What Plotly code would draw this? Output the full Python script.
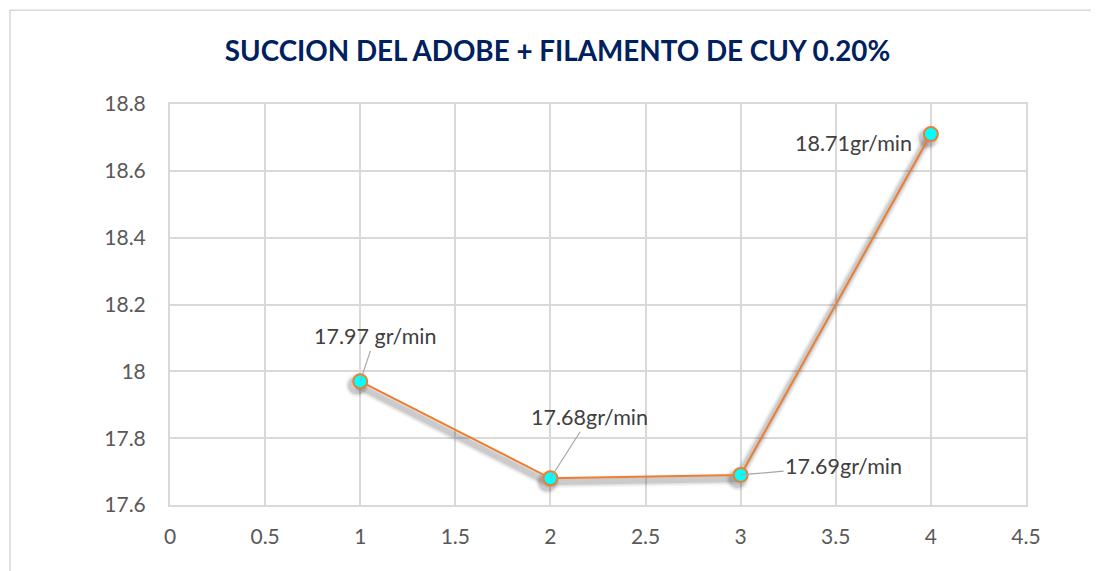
import plotly.graph_objects as go

x_vals = [1, 2, 3, 4]
y_vals = [17.97, 17.68, 17.69, 18.71]
labels = ["17.97 gr/min", "17.68gr/min", "17.69gr/min", "18.71gr/min"]
label_offsets = [(15, -45), (39, -61), (103, -9), (-77, 9)]
show_leader = [True, True, True, False]

x_ticks = [0, 0.5, 1, 1.5, 2, 2.5, 3, 3.5, 4, 4.5]
x_tick_text = ["0", "0.5", "1", "1.5", "2", "2.5", "3", "3.5", "4", "4.5"]
y_ticks = [17.6, 17.8, 18.0, 18.2, 18.4, 18.6, 18.8]
y_tick_text = ["17.6", "17.8", "18", "18.2", "18.4", "18.6", "18.8"]

ORANGE = "#ED7D31"
GRID = "#D9D9D9"
TICK = "#595959"
FONT = "Lato, Carlito, Calibri, sans-serif"

fig = go.Figure()

# soft shadow
for w, op in [(12, 0.04), (9, 0.07), (6, 0.10)]:
    fig.add_trace(go.Scatter(
        x=[v - 0.016 for v in x_vals], y=[v - 0.012 for v in y_vals],
        mode="lines+markers",
        line=dict(color=f"rgba(0,0,0,{op})", width=w),
        marker=dict(size=12 + w, color=f"rgba(0,0,0,{op})"),
        hoverinfo="skip", showlegend=False))

fig.add_trace(go.Scatter(
    x=x_vals, y=y_vals, mode="lines+markers",
    line=dict(color=ORANGE, width=2),
    marker=dict(size=14, color="#00FFFF", line=dict(color=ORANGE, width=2)),
    showlegend=False))

for xv, yv, lab, (ax, ay), sl in zip(x_vals, y_vals, labels, label_offsets, show_leader):
    fig.add_annotation(
        x=xv, y=yv, text=lab, showarrow=True, ax=ax, ay=ay,
        arrowhead=0, arrowwidth=1.2,
        arrowcolor="#A6A6A6" if sl else "rgba(0,0,0,0)",
        font=dict(family=FONT, size=21.5, color="#404040"))

fig.update_layout(
    width=1099, height=571,
    paper_bgcolor="white", plot_bgcolor="white",
    margin=dict(l=162, r=81, t=96, b=74),
    title=dict(text="<b>SUCCION DEL ADOBE + FILAMENTO DE CUY 0.20%</b>",
               x=0.5, xanchor="center", y=0.925, yanchor="middle",
               font=dict(family=FONT, size=27.8, color="#002060")),
    xaxis=dict(range=[0, 4.5], tickvals=x_ticks, ticktext=x_tick_text,
               showgrid=True, gridcolor=GRID, gridwidth=1.5,
               showline=True, linecolor=GRID, linewidth=2, mirror=True,
               zeroline=False, ticks="outside", ticklen=12, tickcolor="rgba(0,0,0,0)",
               tickfont=dict(family=FONT, size=21, color=TICK)),
    yaxis=dict(range=[17.6, 18.8], tickvals=y_ticks, ticktext=y_tick_text,
               showgrid=True, gridcolor=GRID, gridwidth=1.5,
               showline=True, linecolor=GRID, linewidth=2, mirror=True,
               zeroline=False, ticks="outside", ticklen=18, tickcolor="rgba(0,0,0,0)",
               tickfont=dict(family=FONT, size=21, color=TICK)),
    shapes=[dict(type="rect", xref="paper", yref="paper",
                 x0=-0.187, x1=1.1, y0=-0.2, y1=1.234,
                 line=dict(color="#D9D9D9", width=1.5), layer="below")],
)

fig.write_html("out.html")
